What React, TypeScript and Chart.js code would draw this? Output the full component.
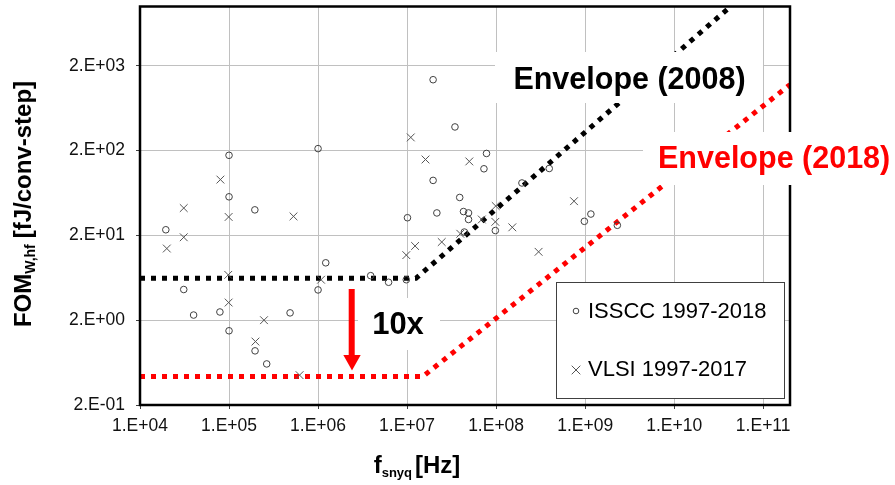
import React, { useEffect, useRef } from "react";
import { Chart, registerables } from "chart.js";

Chart.register(...registerables);

// ---- tick values / labels ----
const xTickValues = [1e4, 1e5, 1e6, 1e7, 1e8, 1e9, 1e10, 1e11];
const xTickLabels = ["1.E+04", "1.E+05", "1.E+06", "1.E+07", "1.E+08", "1.E+09", "1.E+10", "1.E+11"];
const yTickValues = [0.2, 2, 20, 200, 2000];
const yTickLabels = ["2.E-01", "2.E+00", "2.E+01", "2.E+02", "2.E+03"];

// ---- ISSCC 1997-2018 (circles) ----
const isscc_f = [
  1.0e5, 1.0e6, 1.0e5, 1.95e5, 1.95e4, 1.22e6, 3.1e4, 1.0e6, 4.0e4, 7.9e4, 4.85e5, 1.0e5,
  1.96e5, 2.65e5, 3.9e6, 6.2e6, 9.8e6, 1.96e7, 3.45e7, 7.8e7, 7.3e7, 1.96e7, 3.9e7, 1.01e7,
  2.16e7, 4.3e7, 4.9e7, 4.9e7, 9.8e7, 1.95e8, 3.95e8, 9.8e8, 1.16e9, 2.3e9, 4.4e7,
];
const isscc_fom = [
  176, 211, 57, 40, 23.3, 9.5, 4.6, 4.55, 2.3, 2.5, 2.44, 1.5,
  0.87, 0.61, 6.7, 5.6, 6.0, 1370, 380, 185, 122, 89, 56, 32.3,
  36.8, 38.2, 36.8, 30.8, 22.8, 83, 123, 29.3, 35.7, 26.3, 21.9,
];

// ---- VLSI 1997-2017 (crosses) ----
const vlsi_f = [
  8.0e4, 3.1e4, 9.9e4, 5.3e5, 3.1e4, 2.0e4, 9.8e4, 1.08e6, 9.9e4, 2.47e5, 1.98e5, 6.2e5,
  1.1e7, 1.61e7, 5.0e7, 7.5e8, 9.9e7, 9.8e7, 6.9e7, 1.52e8, 3.96e7, 2.45e7, 1.23e7, 9.8e6, 3.0e8,
];
const vlsi_fom = [
  91, 42, 33, 33.5, 19, 14, 6.85, 6.0, 3.23, 2.0, 1.12, 0.45,
  286, 157, 149, 50.6, 44.4, 28.9, 30.8, 24.9, 20.9, 16.7, 15.0, 11.7, 12.8,
];

// ---- envelopes ----
const env2008_f = [1e4, 1.26e7, 4.3e10];
const env2008_fom = [6.25, 6.25, 1e4];
const env2018_f = [1e4, 1.51e7, 2e11];
const env2018_fom = [0.435, 0.435, 1200];

const FONT = "'Liberation Sans', Arial, sans-serif";
const RED = "#ff0000";

const pts = (xs: number[], ys: number[]) => xs.map((x, i) => ({ x, y: ys[i] }));

type Part = { text: string; size: number; dy: number; gap?: number };

function drawRich(ctx: CanvasRenderingContext2D, parts: Part[], cx: number, baseY: number) {
  const widths = parts.map((p) => {
    ctx.font = `bold ${p.size}px ${FONT}`;
    return ctx.measureText(p.text).width + (p.gap || 0);
  });
  const total = widths.reduce((a, b) => a + b, 0);
  let x = cx - total / 2;
  ctx.textAlign = "left";
  ctx.textBaseline = "alphabetic";
  parts.forEach((p, i) => {
    ctx.font = `bold ${p.size}px ${FONT}`;
    ctx.fillText(p.text, x, baseY + p.dy);
    x += widths[i];
  });
}

const overlay = {
  id: "overlay",
  afterDraw(chart: any) {
    const { ctx, chartArea: a } = chart;
    ctx.save();

    // plot border
    ctx.strokeStyle = "#000";
    ctx.lineWidth = 2.5;
    ctx.strokeRect(a.left, a.top, a.right - a.left, a.bottom - a.top);

    // white label boxes
    ctx.fillStyle = "#fff";
    ctx.fillRect(495, 52, 268, 51);
    ctx.fillRect(643, 132, 252, 53);
    ctx.fillRect(358, 298, 82, 52);

    ctx.textBaseline = "middle";
    ctx.font = `bold 30.5px ${FONT}`;
    ctx.fillStyle = "#000";
    ctx.textAlign = "center";
    ctx.fillText("Envelope (2008)", 629.5, 81);
    ctx.fillStyle = RED;
    ctx.textAlign = "left";
    ctx.fillText("Envelope (2018)", 658, 160);
    ctx.fillStyle = "#000";
    ctx.textAlign = "center";
    ctx.font = `bold 31px ${FONT}`;
    ctx.fillText("10x", 398, 325);

    // red arrow
    ctx.fillStyle = RED;
    ctx.fillRect(348.7, 289, 6, 67);
    ctx.beginPath();
    ctx.moveTo(343.3, 355);
    ctx.lineTo(360.7, 355);
    ctx.lineTo(352, 370.5);
    ctx.closePath();
    ctx.fill();

    // legend
    ctx.fillStyle = "#fff";
    ctx.fillRect(556, 282, 228, 116);
    ctx.strokeStyle = "#404040";
    ctx.lineWidth = 1;
    ctx.strokeRect(556.5, 282.5, 228, 116);
    ctx.strokeStyle = "#404040";
    ctx.beginPath();
    ctx.arc(576, 311, 2.8, 0, Math.PI * 2);
    ctx.stroke();
    ctx.strokeStyle = "#555";
    ctx.beginPath();
    ctx.moveTo(571.7, 365.7);
    ctx.lineTo(580.3, 374.3);
    ctx.moveTo(580.3, 365.7);
    ctx.lineTo(571.7, 374.3);
    ctx.stroke();
    ctx.fillStyle = "#000";
    ctx.font = `22px ${FONT}`;
    ctx.textAlign = "left";
    ctx.textBaseline = "middle";
    ctx.fillText("ISSCC 1997-2018", 588, 312);
    ctx.fillText("VLSI 1997-2017", 588, 370);

    // axis titles
    ctx.fillStyle = "#000";
    drawRich(
      ctx,
      [
        { text: "f", size: 24, dy: 0 },
        { text: "snyq", size: 13, dy: 4, gap: 3 },
        { text: "[Hz]", size: 24, dy: 0 },
      ],
      417,
      473
    );
    ctx.save();
    ctx.translate(30.5, 204);
    ctx.rotate(-Math.PI / 2);
    drawRich(
      ctx,
      [
        { text: "FOM", size: 24, dy: 0 },
        { text: "W,hf", size: 14, dy: 4, gap: 6 },
        { text: "[fJ/conv-step]", size: 24, dy: 0 },
      ],
      0,
      0
    );
    ctx.restore();

    ctx.restore();
  },
};

export default function App() {
  const ref = useRef<HTMLCanvasElement>(null);

  useEffect(() => {
    const tickFont = { family: FONT, size: 17.5 };
    const chart = new Chart(ref.current as HTMLCanvasElement, {
      type: "scatter",
      data: {
        datasets: [
          {
            label: "ISSCC 1997-2018",
            data: pts(isscc_f, isscc_fom),
            pointStyle: "circle",
            pointRadius: 3.3,
            backgroundColor: "rgba(0,0,0,0)",
            borderColor: "#404040",
            borderWidth: 1,
          },
          {
            label: "VLSI 1997-2017",
            data: pts(vlsi_f, vlsi_fom),
            pointStyle: "crossRot",
            pointRadius: 5.5,
            borderColor: "#555",
            borderWidth: 1,
          },
          {
            label: "Envelope (2008)",
            data: pts(env2008_f, env2008_fom),
            showLine: true,
            pointRadius: 0,
            borderColor: "#000",
            borderWidth: 5,
            borderDash: [5, 6],
            borderCapStyle: "butt",
            tension: 0,
          },
          {
            label: "Envelope (2018)",
            data: pts(env2018_f, env2018_fom),
            showLine: true,
            pointRadius: 0,
            borderColor: RED,
            borderWidth: 5,
            borderDash: [5, 6],
            borderCapStyle: "butt",
            tension: 0,
          },
        ],
      },
      options: {
        animation: false,
        responsive: false,
        devicePixelRatio: 1,
        events: [],
        layout: { padding: { left: 0, right: 105, top: -1.3, bottom: 0 } },
        plugins: {
          legend: { display: false },
          tooltip: { enabled: false },
          title: { display: false },
        },
        scales: {
          x: {
            type: "logarithmic",
            min: 1e4,
            max: 2e11,
            afterBuildTicks: (axis: any) => {
              axis.ticks = xTickValues.map((v) => ({ value: v }));
            },
            afterFit: (s: any) => {
              s.height = 80;
              s.paddingLeft = 0;
              s.paddingRight = 0;
              s.paddingTop = 0;
              s.paddingBottom = 0;
            },
            ticks: {
              autoSkip: false,
              maxRotation: 0,
              minRotation: 0,
              padding: 7,
              color: "#111",
              font: tickFont,
              callback: (_v: any, i: number) => xTickLabels[i],
            },
            grid: { color: "#c0c0c0", lineWidth: 1, tickLength: 4, tickColor: "#404040" },
            border: { display: false },
            title: { display: false },
          },
          y: {
            type: "logarithmic",
            min: 0.2,
            max: 1e4,
            afterBuildTicks: (axis: any) => {
              axis.ticks = yTickValues.map((v) => ({ value: v }));
            },
            afterFit: (s: any) => {
              s.width = 140;
              s.paddingLeft = 0;
              s.paddingRight = 0;
              s.paddingTop = 0;
              s.paddingBottom = 0;
            },
            ticks: {
              autoSkip: false,
              padding: 11,
              color: "#111",
              font: tickFont,
              callback: (_v: any, i: number) => yTickLabels[i],
            },
            grid: { color: "#c0c0c0", lineWidth: 1, tickLength: 4, tickColor: "#404040" },
            border: { display: false },
            title: { display: false },
          },
        },
      } as any,
      plugins: [overlay],
    });
    return () => chart.destroy();
  }, []);

  return (
    <div style={{ position: "fixed", left: 0, top: 0, width: 895, height: 485, background: "#fff" }}>
      <canvas ref={ref} width={895} height={485} style={{ display: "block", width: 895, height: 485 }} />
    </div>
  );
}
